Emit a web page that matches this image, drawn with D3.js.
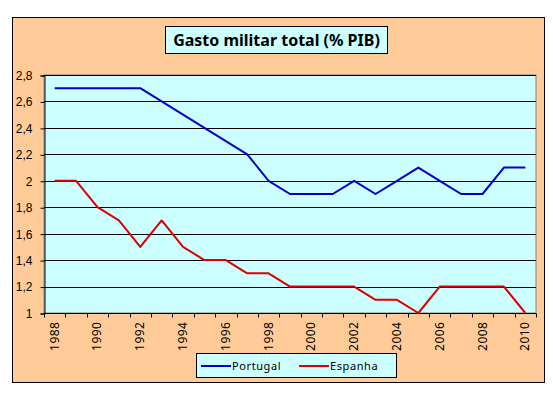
<!DOCTYPE html>
<html>
<head>
<meta charset="utf-8">
<script src="https://cdn.jsdelivr.net/npm/d3@7"></script>
<style>
  body { margin: 0; background: #fff; }
  svg { display: block; font-family: "Noto Sans", "DejaVu Sans", sans-serif; }
</style>
</head>
<body>
<svg id="chart" width="553" height="397"></svg>
<script>
const years = [1988, 1989, 1990, 1991, 1992, 1993, 1994, 1995, 1996, 1997, 1998, 1999,
  2000, 2001, 2002, 2003, 2004, 2005, 2006, 2007, 2008, 2009, 2010];
const portugal = [2.7, 2.7, 2.7, 2.7, 2.7, 2.6, 2.5, 2.4, 2.3, 2.2, 2.0, 1.9,
  1.9, 1.9, 2.0, 1.9, 2.0, 2.1, 2.0, 1.9, 1.9, 2.1, 2.1];
const espanha = [2.0, 2.0, 1.8, 1.7, 1.5, 1.7, 1.5, 1.4, 1.4, 1.3, 1.3, 1.2,
  1.2, 1.2, 1.2, 1.1, 1.1, 1.0, 1.2, 1.2, 1.2, 1.2, 1.0];
const yTicks = [1, 1.2, 1.4, 1.6, 1.8, 2, 2.2, 2.4, 2.6, 2.8];
const seriesNames = ["Portugal", "Espanha"];
const seriesColors = ["#0000cc", "#dd0000"];

const svg = d3.select("#chart");

// outer chart area
svg.append("rect")
  .attr("x", 12.5).attr("y", 17.5)
  .attr("width", 532).attr("height", 365)
  .attr("fill", "#ffcc99")
  .attr("stroke", "#000").attr("stroke-width", 1);

const plot = { left: 44, top: 75, right: 536, bottom: 313 };

const x = d3.scaleBand()
  .domain(years)
  .range([plot.left, plot.right]);

const y = d3.scaleLinear()
  .domain([1, 2.8])
  .range([plot.bottom, plot.top]);

svg.append("rect")
  .attr("x", plot.left).attr("y", plot.top)
  .attr("width", plot.right - plot.left).attr("height", plot.bottom - plot.top)
  .attr("fill", "#ccffff")
  .attr("stroke", "#808080");

// gridlines
svg.append("g")
  .selectAll("line")
  .data(yTicks)
  .enter().append("line")
  .attr("x1", plot.left).attr("x2", plot.right)
  .attr("y1", d => Math.round(y(d)) + 0.5).attr("y2", d => Math.round(y(d)) + 0.5)
  .attr("stroke", "#000");

const fmt = d => String(d).replace(".", ",");

// y axis
const yAxis = svg.append("g")
  .attr("transform", `translate(${plot.left + 0.5},0.5)`)
  .call(d3.axisLeft(y).tickValues(yTicks).tickFormat(fmt).tickSize(4).tickPadding(8));
yAxis.select(".domain").attr("stroke", "#000");
yAxis.selectAll("text").attr("font-size", 12).attr("fill", "#000");

// x axis: ticks between categories, labels every other year
const xAxisG = svg.append("g").attr("transform", `translate(0,${plot.bottom + 0.5})`);
xAxisG.append("line")
  .attr("x1", plot.left).attr("x2", plot.right)
  .attr("stroke", "#000");
xAxisG.selectAll(".tick")
  .data(years.concat([null]))
  .enter().append("line")
  .attr("x1", (d, i) => Math.round(plot.left + i * x.step()) + 0.5)
  .attr("x2", (d, i) => Math.round(plot.left + i * x.step()) + 0.5)
  .attr("y1", 0).attr("y2", 4)
  .attr("stroke", "#000");
xAxisG.selectAll("text")
  .data(years.filter((d, i) => i % 2 === 0))
  .enter().append("text")
  .attr("transform", d => `translate(${x(d) + x.bandwidth() / 2 + 4},8) rotate(-90)`)
  .attr("text-anchor", "end")
  .attr("font-size", 12)
  .attr("letter-spacing", 0.5)
  .text(d => d);

// lines
const line = d3.line()
  .x((d, i) => x(years[i]) + x.bandwidth() / 2)
  .y(d => y(d));

[portugal, espanha].forEach((vals, k) => {
  svg.append("path")
    .datum(vals)
    .attr("d", line)
    .attr("fill", "none")
    .attr("stroke", seriesColors[k])
    .attr("stroke-width", 2)
    .attr("stroke-linejoin", "round");
});

// title
const title = svg.append("g");
title.append("rect")
  .attr("x", 165.5).attr("y", 26.5)
  .attr("width", 222).attr("height", 27)
  .attr("fill", "#ccffff").attr("stroke", "#000");
title.append("text")
  .attr("x", 276.5).attr("y", 45.5)
  .attr("text-anchor", "middle")
  .attr("font-size", 16).attr("font-weight", "bold")
  .text("Gasto militar total (% PIB)");

// legend
const legend = svg.append("g");
legend.append("rect")
  .attr("x", 196.5).attr("y", 353.5)
  .attr("width", 200).attr("height", 24)
  .attr("fill", "#ccffff").attr("stroke", "#000");
const legX = [201, 299];
seriesNames.forEach((name, k) => {
  legend.append("line")
    .attr("x1", legX[k]).attr("x2", legX[k] + 30)
    .attr("y1", 366).attr("y2", 366)
    .attr("stroke", seriesColors[k]).attr("stroke-width", 2);
  legend.append("text")
    .attr("x", legX[k] + 31).attr("y", 370)
    .attr("font-size", 11)
    .attr("letter-spacing", 0.6)
    .text(name);
});
</script>
</body>
</html>
